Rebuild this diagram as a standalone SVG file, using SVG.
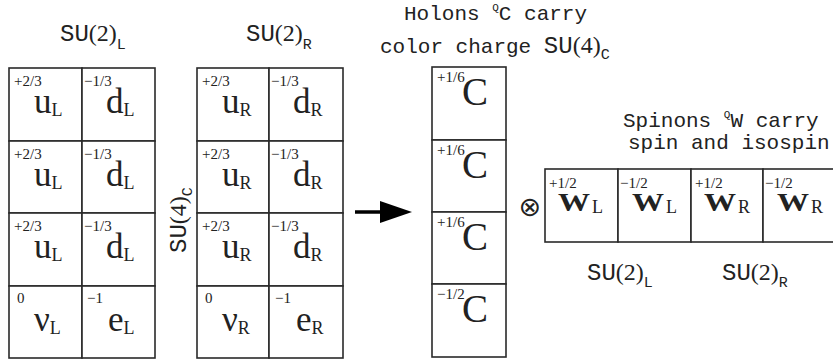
<svg xmlns="http://www.w3.org/2000/svg" width="833" height="364" viewBox="0 0 833 364">
<style>
.cell{fill:#fff;stroke:#2a2a2a;stroke-width:1.6}
.lab{font-family:"Liberation Serif",serif;font-size:15px;fill:#222}
.big{font-family:"Liberation Serif",serif;font-size:35px;fill:#222}
.bigc{font-family:"Liberation Serif",serif;font-size:39px;fill:#222}
.bigw{font-family:"Liberation Serif",serif;font-size:26px;font-weight:bold;fill:#222}
.sub{font-size:18px}
.subw{font-family:"Liberation Serif",serif;font-size:18px;fill:#222}
.mono{font-family:"Liberation Mono",monospace;font-size:21px;fill:#222}
.su{font-family:"Liberation Mono",monospace;font-size:24px;fill:#222}
.ser{font-family:"Liberation Serif",serif}
</style>
<rect width="833" height="364" fill="#fff"/>

<g id="title-su2L"><text class="su" x="60" y="41">SU<tspan class="ser">(2)</tspan><tspan font-size="15" dy="8">L</tspan></text></g>
<g id="title-su2R"><text class="su" x="246" y="41">SU<tspan class="ser">(2)</tspan><tspan font-size="15" dy="8">R</tspan></text></g>
<g id="title-holons"><text class="mono" x="404" y="20">Holons <tspan font-size="11" dy="-9">Q</tspan><tspan dy="9">C carry</tspan></text>
<text class="mono" x="380" y="53">color charge <tspan class="su">SU<tspan class="ser">(4)</tspan><tspan font-size="15" dy="6">C</tspan></tspan></text></g>
<g id="title-spinons"><text class="mono" x="623" y="127" font-size="21.5">Spinons <tspan font-size="11" dy="-9">Q</tspan><tspan dy="9">W carry</tspan></text>
<text class="mono" x="628" y="149" font-size="21.5">spin and isospin</text></g>
<g id="label-su4c"><text class="su" transform="translate(186,253) rotate(-90)">SU<tspan class="ser">(4)</tspan><tspan font-size="15" dy="6">C</tspan></text></g>
<g id="label-su2L-bottom"><text class="su" x="587" y="280">SU<tspan class="ser">(2)</tspan><tspan font-size="15" dy="7">L</tspan></text></g>
<g id="label-su2R-bottom"><text class="su" x="722" y="280">SU<tspan class="ser">(2)</tspan><tspan font-size="15" dy="7">R</tspan></text></g>

<g id="left-grid">
<rect class="cell" x="9" y="68" width="73" height="73"/><rect class="cell" x="82" y="68" width="73" height="73"/>
<rect class="cell" x="9" y="141" width="73" height="72"/><rect class="cell" x="82" y="141" width="73" height="72"/>
<rect class="cell" x="9" y="213" width="73" height="73"/><rect class="cell" x="82" y="213" width="73" height="73"/>
<rect class="cell" x="9" y="286" width="73" height="72"/><rect class="cell" x="82" y="286" width="73" height="72"/>
<text class="lab" x="14" y="86">+2/3</text><text class="big" x="34" y="113">u<tspan class="sub" dy="3">L</tspan></text>
<text class="lab" x="84" y="86">−1/3</text><text class="big" x="106" y="113">d<tspan class="sub" dy="3">L</tspan></text>
<text class="lab" x="14" y="159">+2/3</text><text class="big" x="34" y="186">u<tspan class="sub" dy="3">L</tspan></text>
<text class="lab" x="84" y="159">−1/3</text><text class="big" x="106" y="186">d<tspan class="sub" dy="3">L</tspan></text>
<text class="lab" x="14" y="231">+2/3</text><text class="big" x="34" y="258">u<tspan class="sub" dy="3">L</tspan></text>
<text class="lab" x="84" y="231">−1/3</text><text class="big" x="106" y="258">d<tspan class="sub" dy="3">L</tspan></text>
<text class="lab" x="17" y="303">0</text><text class="big" x="34" y="331">ν<tspan class="sub" dy="3">L</tspan></text>
<text class="lab" x="87" y="303">−1</text><text class="big" x="108" y="331">e<tspan class="sub" dy="3">L</tspan></text>
</g>

<g id="right-grid">
<rect class="cell" x="197" y="68" width="72" height="73"/><rect class="cell" x="269" y="68" width="74" height="73"/>
<rect class="cell" x="197" y="141" width="72" height="72"/><rect class="cell" x="269" y="141" width="74" height="72"/>
<rect class="cell" x="197" y="213" width="72" height="73"/><rect class="cell" x="269" y="213" width="74" height="73"/>
<rect class="cell" x="197" y="286" width="72" height="72"/><rect class="cell" x="269" y="286" width="74" height="72"/>
<text class="lab" x="202" y="86">+2/3</text><text class="big" x="222" y="113">u<tspan class="sub" dy="3">R</tspan></text>
<text class="lab" x="271" y="86">−1/3</text><text class="big" x="293" y="113">d<tspan class="sub" dy="3">R</tspan></text>
<text class="lab" x="202" y="159">+2/3</text><text class="big" x="222" y="186">u<tspan class="sub" dy="3">R</tspan></text>
<text class="lab" x="271" y="159">−1/3</text><text class="big" x="293" y="186">d<tspan class="sub" dy="3">R</tspan></text>
<text class="lab" x="202" y="231">+2/3</text><text class="big" x="222" y="258">u<tspan class="sub" dy="3">R</tspan></text>
<text class="lab" x="271" y="231">−1/3</text><text class="big" x="293" y="258">d<tspan class="sub" dy="3">R</tspan></text>
<text class="lab" x="205" y="303">0</text><text class="big" x="222" y="331">ν<tspan class="sub" dy="3">R</tspan></text>
<text class="lab" x="275" y="303">−1</text><text class="big" x="296" y="331">e<tspan class="sub" dy="3">R</tspan></text>
</g>

<g id="connectors">
<line x1="355" y1="212" x2="384" y2="212" stroke="#000" stroke-width="3.5"/>
<polygon points="380,201 412,212 380,223" fill="#000"/>
</g>

<g id="holon-column">
<rect class="cell" x="432" y="67" width="74" height="73"/>
<rect class="cell" x="432" y="140" width="74" height="72"/>
<rect class="cell" x="432" y="212" width="74" height="72"/>
<rect class="cell" x="432" y="284" width="74" height="73"/>
<text class="lab" x="437" y="82">+1/6</text><text class="bigc" x="462" y="105">C</text>
<text class="lab" x="437" y="155">+1/6</text><text class="bigc" x="462" y="178">C</text>
<text class="lab" x="437" y="227">+1/6</text><text class="bigc" x="462" y="250">C</text>
<text class="lab" x="437" y="299">−1/2</text><text class="bigc" x="462" y="322">C</text>
</g>

<g id="otimes"><text x="530" y="216" text-anchor="middle" font-family="DejaVu Sans,sans-serif" font-size="27" fill="#222">⊗</text></g>

<g id="spinon-row">
<rect class="cell" x="545" y="169" width="73" height="73"/>
<rect class="cell" x="618" y="169" width="73" height="73"/>
<rect class="cell" x="691" y="169" width="72" height="73"/>
<rect class="cell" x="763" y="169" width="80" height="73"/>
<text class="lab" x="549" y="188">+1/2</text><text class="bigw" x="558" y="211" textLength="32" lengthAdjust="spacingAndGlyphs">W</text><text class="subw" x="592" y="213">L</text>
<text class="lab" x="620" y="188">−1/2</text><text class="bigw" x="632" y="211" textLength="32" lengthAdjust="spacingAndGlyphs">W</text><text class="subw" x="666" y="213">L</text>
<text class="lab" x="695" y="188">+1/2</text><text class="bigw" x="704" y="211" textLength="32" lengthAdjust="spacingAndGlyphs">W</text><text class="subw" x="738" y="213">R</text>
<text class="lab" x="765" y="188">−1/2</text><text class="bigw" x="777" y="211" textLength="32" lengthAdjust="spacingAndGlyphs">W</text><text class="subw" x="811" y="213">R</text>
</g>
</svg>
